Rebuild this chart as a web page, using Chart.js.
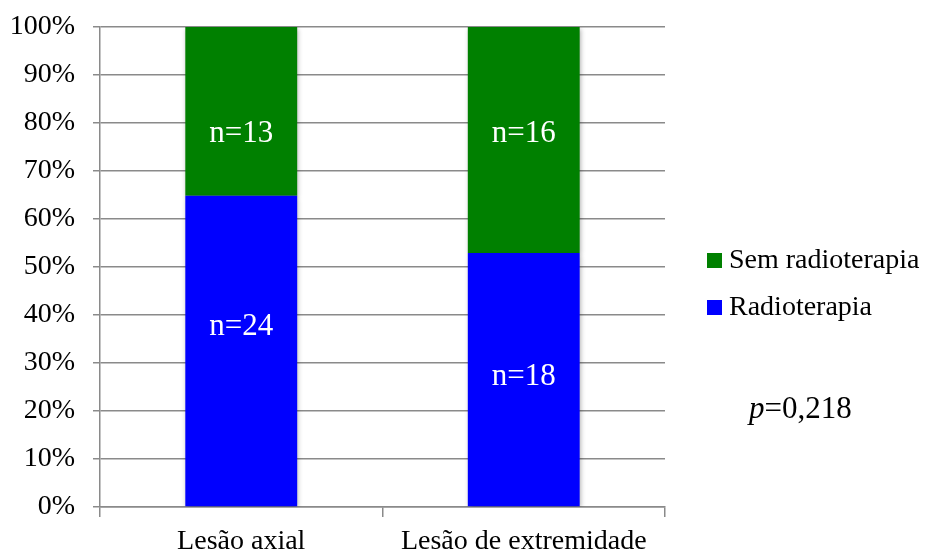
<!DOCTYPE html>
<html>
<head>
<meta charset="utf-8">
<script src="https://cdn.jsdelivr.net/npm/chart.js@4/dist/chart.umd.min.js"></script>
<style>
  html, body { margin: 0; padding: 0; background: #fff; }
  #wrap { width: 927px; height: 554px; }
</style>
</head>
<body>
<div id="wrap"><canvas id="c" width="927" height="554"></canvas></div>
<script>
// Patients per group, split by whether they received radiotherapy
const categories = ['Lesão axial', 'Lesão de extremidade'];
const seriesNames = ['Radioterapia', 'Sem radioterapia'];
const withRadio = [24, 18];
const withoutRadio = [13, 16];
const yTicks = [0, 10, 20, 30, 40, 50, 60, 70, 80, 90, 100];
const pValueText = '0,218';

// Percent share of each group
const totals = withRadio.map((v, i) => v + withoutRadio[i]);
const pctRadio = withRadio.map((v, i) => v / totals[i] * 100);
const pctNoRadio = withoutRadio.map((v, i) => v / totals[i] * 100);

const FONT = "'Liberation Serif', serif";
const GRID = '#8a8a8a';
const GREEN = '#008000';
const BLUE = '#0000ff';

// Heights (in %) where the count labels sit inside each segment
const countLabelLevels = { radio: [37.5, 27.1], noRadio: [77.7, 77.7] };

const barShadow = {
  id: 'barShadow',
  beforeDatasetsDraw(chart) {
    const ctx = chart.ctx;
    ctx.save();
    ctx.shadowColor = 'rgba(0,0,0,0.35)';
    ctx.shadowBlur = 5;
    ctx.shadowOffsetX = 1;
    ctx.shadowOffsetY = 2;
  },
  afterDatasetsDraw(chart) {
    chart.ctx.restore();
  }
};

const annotations = {
  id: 'annotations',
  afterDraw(chart) {
    const ctx = chart.ctx;
    const y = chart.scales.y;
    const x = chart.scales.x;
    ctx.save();
    // counts inside the bars
    ctx.fillStyle = '#ffffff';
    ctx.font = '31px ' + FONT;
    ctx.textAlign = 'center';
    ctx.textBaseline = 'middle';
    categories.forEach((c, i) => {
      const cx = x.getPixelForValue(i);
      ctx.fillText('n=' + withoutRadio[i], cx, y.getPixelForValue(countLabelLevels.noRadio[i]));
      ctx.fillText('n=' + withRadio[i], cx, y.getPixelForValue(countLabelLevels.radio[i]));
    });
    // legend
    const items = [[seriesNames[1], GREEN, 261], [seriesNames[0], BLUE, 308]];
    ctx.textAlign = 'left';
    ctx.font = '28px ' + FONT;
    items.forEach(([label, color, cy]) => {
      ctx.fillStyle = color;
      ctx.fillRect(707, cy - 8, 15, 15);
      ctx.fillStyle = '#000';
      ctx.fillText(label, 729, cy);
    });
    // p value
    ctx.font = 'italic 31px ' + FONT;
    ctx.fillText('p', 749, 410);
    const pw = ctx.measureText('p').width;
    ctx.font = '31px ' + FONT;
    ctx.fillText('=' + pValueText, 749 + pw, 410);
    ctx.restore();
  }
};

new Chart(document.getElementById('c'), {
  type: 'bar',
  data: {
    labels: categories,
    datasets: [
      { label: seriesNames[0], data: pctRadio, backgroundColor: BLUE, borderWidth: 0 },
      { label: seriesNames[1], data: pctNoRadio, backgroundColor: GREEN, borderWidth: 0 }
    ]
  },
  options: {
    responsive: false,
    animation: false,
    devicePixelRatio: 1,
    layout: { padding: { top: 27, left: 0, right: 262, bottom: 0 } },
    plugins: { legend: { display: false }, tooltip: { enabled: false } },
    datasets: { bar: { barPercentage: 0.396, categoryPercentage: 1 } },
    scales: {
      x: {
        stacked: true,
        offset: true,
        grid: { display: true, offset: true, drawOnChartArea: false, color: GRID, lineWidth: 1.5, tickLength: 10 },
        border: { display: true, color: GRID, width: 1.5 },
        ticks: { color: '#000', font: { family: FONT, size: 28 }, padding: 8, maxRotation: 0 },
        afterFit(s) { s.height = 47; s.paddingLeft = 0; s.paddingRight = 0; }
      },
      y: {
        stacked: true,
        min: 0,
        max: 100,
        afterBuildTicks(s) { s.ticks = yTicks.map(v => ({ value: v })); },
        grid: { color: GRID, lineWidth: 1.5, tickLength: 7 },
        border: { display: true, color: GRID, width: 1.5 },
        ticks: { color: '#000', font: { family: FONT, size: 28 }, padding: 18, callback: v => v + '%' },
        afterFit(s) { s.width = 100; s.paddingTop = 0; s.paddingBottom = 0; }
      }
    }
  },
  plugins: [barShadow, annotations]
});
</script>
</body>
</html>
